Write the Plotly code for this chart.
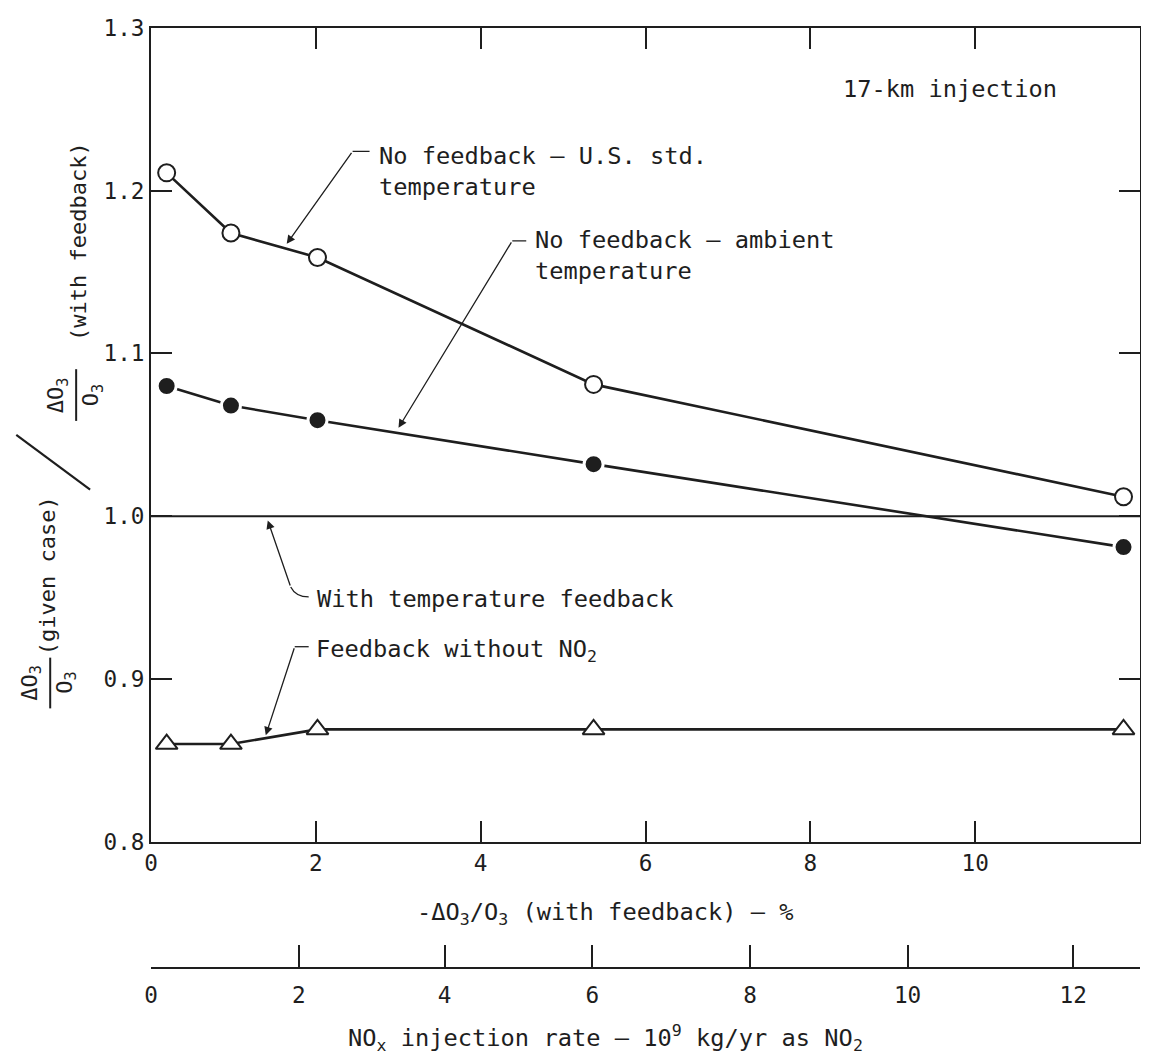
import plotly.graph_objects as go

# ---------------- data ----------------
x_pct = [0.19, 0.97, 2.02, 5.37, 11.8]           # -dO3/O3 (with feedback), %
us_std = [1.211, 1.174, 1.159, 1.081, 1.012]      # no feedback, U.S. std temperature
ambient = [1.080, 1.068, 1.059, 1.032, 0.981]     # no feedback, ambient temperature
no_no2 = [0.860, 0.860, 0.869, 0.869, 0.869]      # feedback without NO2
fb_x = [0, 12]                                    # with temperature feedback (reference)
fb_y = [1.0, 1.0]

x_ticks = [0, 2, 4, 6, 8, 10, 12]
y_ticks = [0.8, 0.9, 1.0, 1.1, 1.2, 1.3]
nox_labels = ["0", "2", "4", "6", "8", "10", "12"]          # NOx injection rate, 1e9 kg/yr
nox_pos = [0, 1.795, 3.563, 5.355, 7.27, 9.18, 11.19]        # same, located on the % scale

# ---------------- style ----------------
FONT = "DejaVu Sans Mono"
INK = "#1e1e1e"
BG = "#ffffff"
FS = 23.7

# window pixel geometry of the frame (page body has an 8px margin)
WIN_W, WIN_H, BODY = 1149, 1059, 8
PL, PR, PT, PB = 151, 1142, 23, 968
PLOT_B = 841


def px_x(px):
    return (px - PL) / (PR - PL)


def px_y(py):
    return (PB - py) / (PB - PT)


def dx(px):
    return (px - PL) / (PR - PL) * 12


def dy(py):
    return 1.3 - (py - PT) / (PLOT_B - PT) * 0.5


fig = go.Figure()

fig.add_trace(go.Scatter(x=fb_x, y=fb_y, mode="lines",
                         line=dict(color=INK, width=2), hoverinfo="skip"))
fig.add_trace(go.Scatter(x=x_pct, y=us_std, mode="lines+markers",
                         line=dict(color=INK, width=2.6),
                         marker=dict(symbol="circle", size=17, color="white",
                                     line=dict(color=INK, width=2))))
fig.add_trace(go.Scatter(x=x_pct, y=ambient, mode="lines+markers",
                         line=dict(color=INK, width=2.6),
                         marker=dict(symbol="circle", size=19, color=INK,
                                     line=dict(color=BG, width=3))))
fig.add_trace(go.Scatter(x=x_pct, y=no_no2, mode="lines+markers",
                         line=dict(color=INK, width=2.6),
                         marker=dict(symbol="triangle-up", size=19, color="white",
                                     line=dict(color=INK, width=2))))
# invisible trace to carry the secondary (NOx) axis
fig.add_trace(go.Scatter(x=[nox_pos[0]], y=[fb_y[0]], xaxis="x2", yaxis="y",
                         mode="markers", marker=dict(opacity=0), hoverinfo="skip"))

ann = []
shapes = []


def text(px, py, s, anchor="left", size=FS, angle=0):
    ann.append(dict(x=px_x(px), y=px_y(py), xref="paper", yref="paper", text=s,
                    showarrow=False, xanchor=anchor, yanchor="middle", align=anchor,
                    textangle=angle, font=dict(family=FONT, size=size, color=INK)))


def arrow(tail, tip):
    ann.append(dict(x=dx(tip[0]), y=dy(tip[1]), xref="x", yref="y",
                    ax=dx(tail[0]), ay=dy(tail[1]), axref="x", ayref="y",
                    text="", showarrow=True, arrowhead=2, arrowsize=1.3,
                    arrowwidth=1.3, arrowcolor=INK, standoff=0))


def seg(a, b, w=1.3):
    shapes.append(dict(type="line", xref="x", yref="y",
                       x0=dx(a[0]), y0=dy(a[1]), x1=dx(b[0]), y1=dy(b[1]),
                       line=dict(color=INK, width=w)))


def pseg(a, b, w=2):
    shapes.append(dict(type="line", xref="paper", yref="paper",
                       x0=px_x(a[0]), y0=px_y(a[1]), x1=px_x(b[0]), y1=px_y(b[1]),
                       line=dict(color=INK, width=w)))


# in-plot labels
text(842, 84, "17-km injection")
text(377, 167, "No feedback — U.S. std.<br>temperature")
seg((353, 147), (370, 147))
arrow((353, 147), (287, 240))

text(534, 252, "No feedback — ambient<br>temperature")
seg((513, 237), (527, 237))
arrow((513, 237), (399, 425))

text(315, 597, "With temperature feedback")
arrow((291, 585), (268, 518))
shapes.append(dict(type="path", xref="x", yref="y",
                   path=f"M {dx(291)},{dy(585)} Q {dx(296)},{dy(595)} {dx(309)},{dy(595)}",
                   line=dict(color=INK, width=1.3)))

text(314, 649, "Feedback without NO<sub>2</sub>")
seg((295, 645), (309, 645))
arrow((295, 645), (266, 734))

# x-axis titles
text(606, 913, "-ΔO<sub>3</sub>/O<sub>3</sub> (with feedback) — %", anchor="center")
text(606, 1038, "NO<sub>x</sub> injection rate — 10<sup>9</sup> kg/yr as NO<sub>2</sub>",
     anchor="center")

# y-axis title built from pieces (rotated)
YS = 22
text(31, 681, "ΔO<sub>3</sub>", anchor="center", size=YS, angle=-90)
text(66, 681, "O<sub>3</sub>", anchor="center", size=YS, angle=-90)
pseg((50, 656), (50, 707))
text(47, 574, "(given case)", anchor="center", size=YS, angle=-90)
pseg((90, 487), (16, 432), w=2.2)
text(57, 392, "ΔO<sub>3</sub>", anchor="center", size=YS, angle=-90)
text(92, 392, "O<sub>3</sub>", anchor="center", size=YS, angle=-90)
pseg((76, 366), (76, 418))
text(79, 238, "(with feedback)", anchor="center", size=YS, angle=-90)

axis_common = dict(showline=True, linecolor=INK, linewidth=2, ticks="inside",
                   ticklen=21, tickwidth=1.6, tickcolor=INK, showgrid=False,
                   zeroline=False, mirror="ticks",
                   tickfont=dict(family=FONT, size=FS - 1, color=INK))

fig.update_layout(
    width=WIN_W - BODY, height=WIN_H - BODY,
    margin=dict(l=PL - BODY, r=WIN_W - PR, t=PT - BODY, b=WIN_H - PB),
    paper_bgcolor=BG, plot_bgcolor=BG,
    showlegend=False,
    xaxis=dict(range=[0, 12], tickvals=x_ticks, anchor="y", **axis_common),
    yaxis=dict(range=[0.8, 1.3], tickvals=y_ticks, tickformat=".1f",
               domain=[(PB - PLOT_B) / (PB - PT), 1], **axis_common),
    xaxis2=dict(range=[0, 12], overlaying="x", anchor="free", position=0,
                side="bottom", tickvals=nox_pos, ticktext=nox_labels,
                showline=True, linecolor=INK, linewidth=2, ticks="inside",
                ticklen=22, tickwidth=1.6, tickcolor=INK, showgrid=False,
                zeroline=False, ticklabelstandoff=7,
                tickfont=dict(family=FONT, size=FS - 1, color=INK)),
    annotations=ann,
    shapes=shapes,
)

fig.write_html("out.html")
